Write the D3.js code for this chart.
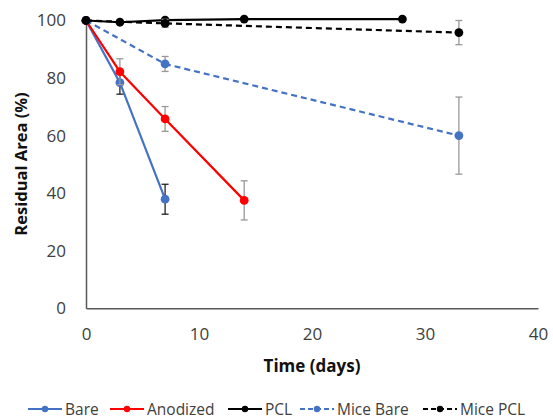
<!DOCTYPE html>
<html>
<head>
<meta charset="utf-8">
<script src="https://cdn.jsdelivr.net/npm/d3@7"></script>
<style>
  body { margin: 0; background: #fff; }
  svg { font-family: "Open Sans", "Liberation Sans", sans-serif; }
</style>
</head>
<body>
<div id="chart"></div>
<script>
// data
const seriesNames = ["Bare", "Anodized", "PCL", "Mice Bare", "Mice PCL"];
const bareDays = [0, 3, 7];
const bareVals = [100, 78.4, 37.9];
const bareErr = [0, 4.0, 5.2];
const anodDays = [0, 3, 7, 14];
const anodVals = [100, 82.2, 65.8, 37.5];
const anodErr = [0, 4.5, 4.3, 6.8];
const pclDays = [0, 3, 7, 14, 28];
const pclVals = [100, 99.4, 100.1, 100.5, 100.5];
const pclErr = [0, 0, 0, 0, 0];
const miceBareDays = [0, 7, 33];
const miceBareVals = [100, 84.9, 60.0];
const miceBareErr = [0, 2.6, 13.4];
const micePclDays = [0, 7, 33];
const micePclVals = [100, 99.0, 95.8];
const micePclErr = [0, 1.4, 4.2];
const xTicks = [0, 10, 20, 30, 40];
const yTicks = [0, 20, 40, 60, 80, 100];

const styles = {
  "Bare": {color: "#4472c4", dash: null, err: "#222"},
  "Anodized": {color: "#ff0000", dash: null, err: "#999"},
  "PCL": {color: "#000", dash: null, err: "#999"},
  "Mice Bare": {color: "#4472c4", dash: "6,4", err: "#999"},
  "Mice PCL": {color: "#000", dash: "6,4", err: "#999"}
};

const build = (name, days, vals, err) => ({
  name, pts: days.map((d, i) => ({x: d, y: vals[i], e: err[i]}))
});
const series = [
  build("Bare", bareDays, bareVals, bareErr),
  build("Anodized", anodDays, anodVals, anodErr),
  build("PCL", pclDays, pclVals, pclErr),
  build("Mice Bare", miceBareDays, miceBareVals, miceBareErr),
  build("Mice PCL", micePclDays, micePclVals, micePclErr)
];

const width = 553, height = 418;

const svg = d3.select("#chart").append("svg")
  .attr("width", width).attr("height", height);

const x = d3.scaleLinear().domain([0, 40]).range([86, 538]);
const y = d3.scaleLinear().domain([0, 100]).range([308.3, 20.5]);

// axes
const xAxis = svg.append("g")
  .attr("transform", `translate(0,${y(0)})`)
  .call(d3.axisBottom(x).tickValues(xTicks).tickSize(0).tickPadding(20));
const yAxis = svg.append("g")
  .attr("transform", `translate(${x(0)},0)`)
  .call(d3.axisLeft(y).tickValues(yTicks).tickSize(0).tickPadding(20));
[xAxis, yAxis].forEach(a => {
  a.select(".domain").attr("stroke", "#595959").attr("stroke-width", 1.5);
  a.selectAll("text").attr("fill", "#404040").style("font-size", "17px")
    .style("font-family", "'Open Sans', sans-serif");
});

// lines
const line = d3.line().x(d => x(d.x)).y(d => y(d.y));
series.forEach(s => {
  const st = styles[s.name];
  const g = svg.append("g");
  g.append("path").datum(s.pts)
    .attr("d", line)
    .attr("fill", "none")
    .attr("stroke", st.color)
    .attr("stroke-width", 2.2)
    .attr("stroke-dasharray", st.dash);

  const eb = g.selectAll(".eb").data(s.pts.filter(d => d.e > 0)).join("g")
    .attr("stroke", st.err).attr("stroke-width", 1.3);
  eb.append("line")
    .attr("x1", d => x(d.x)).attr("x2", d => x(d.x))
    .attr("y1", d => y(d.y - d.e)).attr("y2", d => y(d.y + d.e));
  eb.append("line")
    .attr("x1", d => x(d.x) - 3.5).attr("x2", d => x(d.x) + 3.5)
    .attr("y1", d => y(d.y + d.e)).attr("y2", d => y(d.y + d.e));
  eb.append("line")
    .attr("x1", d => x(d.x) - 3.5).attr("x2", d => x(d.x) + 3.5)
    .attr("y1", d => y(d.y - d.e)).attr("y2", d => y(d.y - d.e));

  g.selectAll("circle").data(s.pts).join("circle")
    .attr("cx", d => x(d.x)).attr("cy", d => y(d.y))
    .attr("r", 4.4)
    .attr("fill", st.color);
});

// axis titles
svg.append("text")
  .attr("x", 312).attr("y", 372)
  .attr("text-anchor", "middle")
  .attr("fill", "#111")
  .style("font-size", "17px").style("font-weight", "bold")
  .text("Time (days)");
svg.append("text")
  .attr("transform", `translate(27,164) rotate(-90)`)
  .attr("text-anchor", "middle")
  .attr("fill", "#111")
  .style("font-size", "16.5px").style("font-weight", "bold")
  .text("Residual Area (%)");

// legend
const legX = [28, 110, 228, 300, 423];
const legend = svg.append("g").attr("transform", "translate(0,409)");
seriesNames.forEach((n, i) => {
  const st = styles[n];
  const lg = legend.append("g").attr("transform", `translate(${legX[i]},0)`);
  lg.append("line").attr("x1", 0).attr("x2", 34)
    .attr("stroke", st.color).attr("stroke-width", 2)
    .attr("stroke-dasharray", st.dash ? "5,3" : null);
  lg.append("circle").attr("cx", 17).attr("r", 3.2).attr("fill", st.color);
  lg.append("text").attr("x", 37).attr("y", 5.5)
    .attr("fill", "#404040")
    .style("font-size", "15.5px")
    .text(n);
});
</script>
</body>
</html>
